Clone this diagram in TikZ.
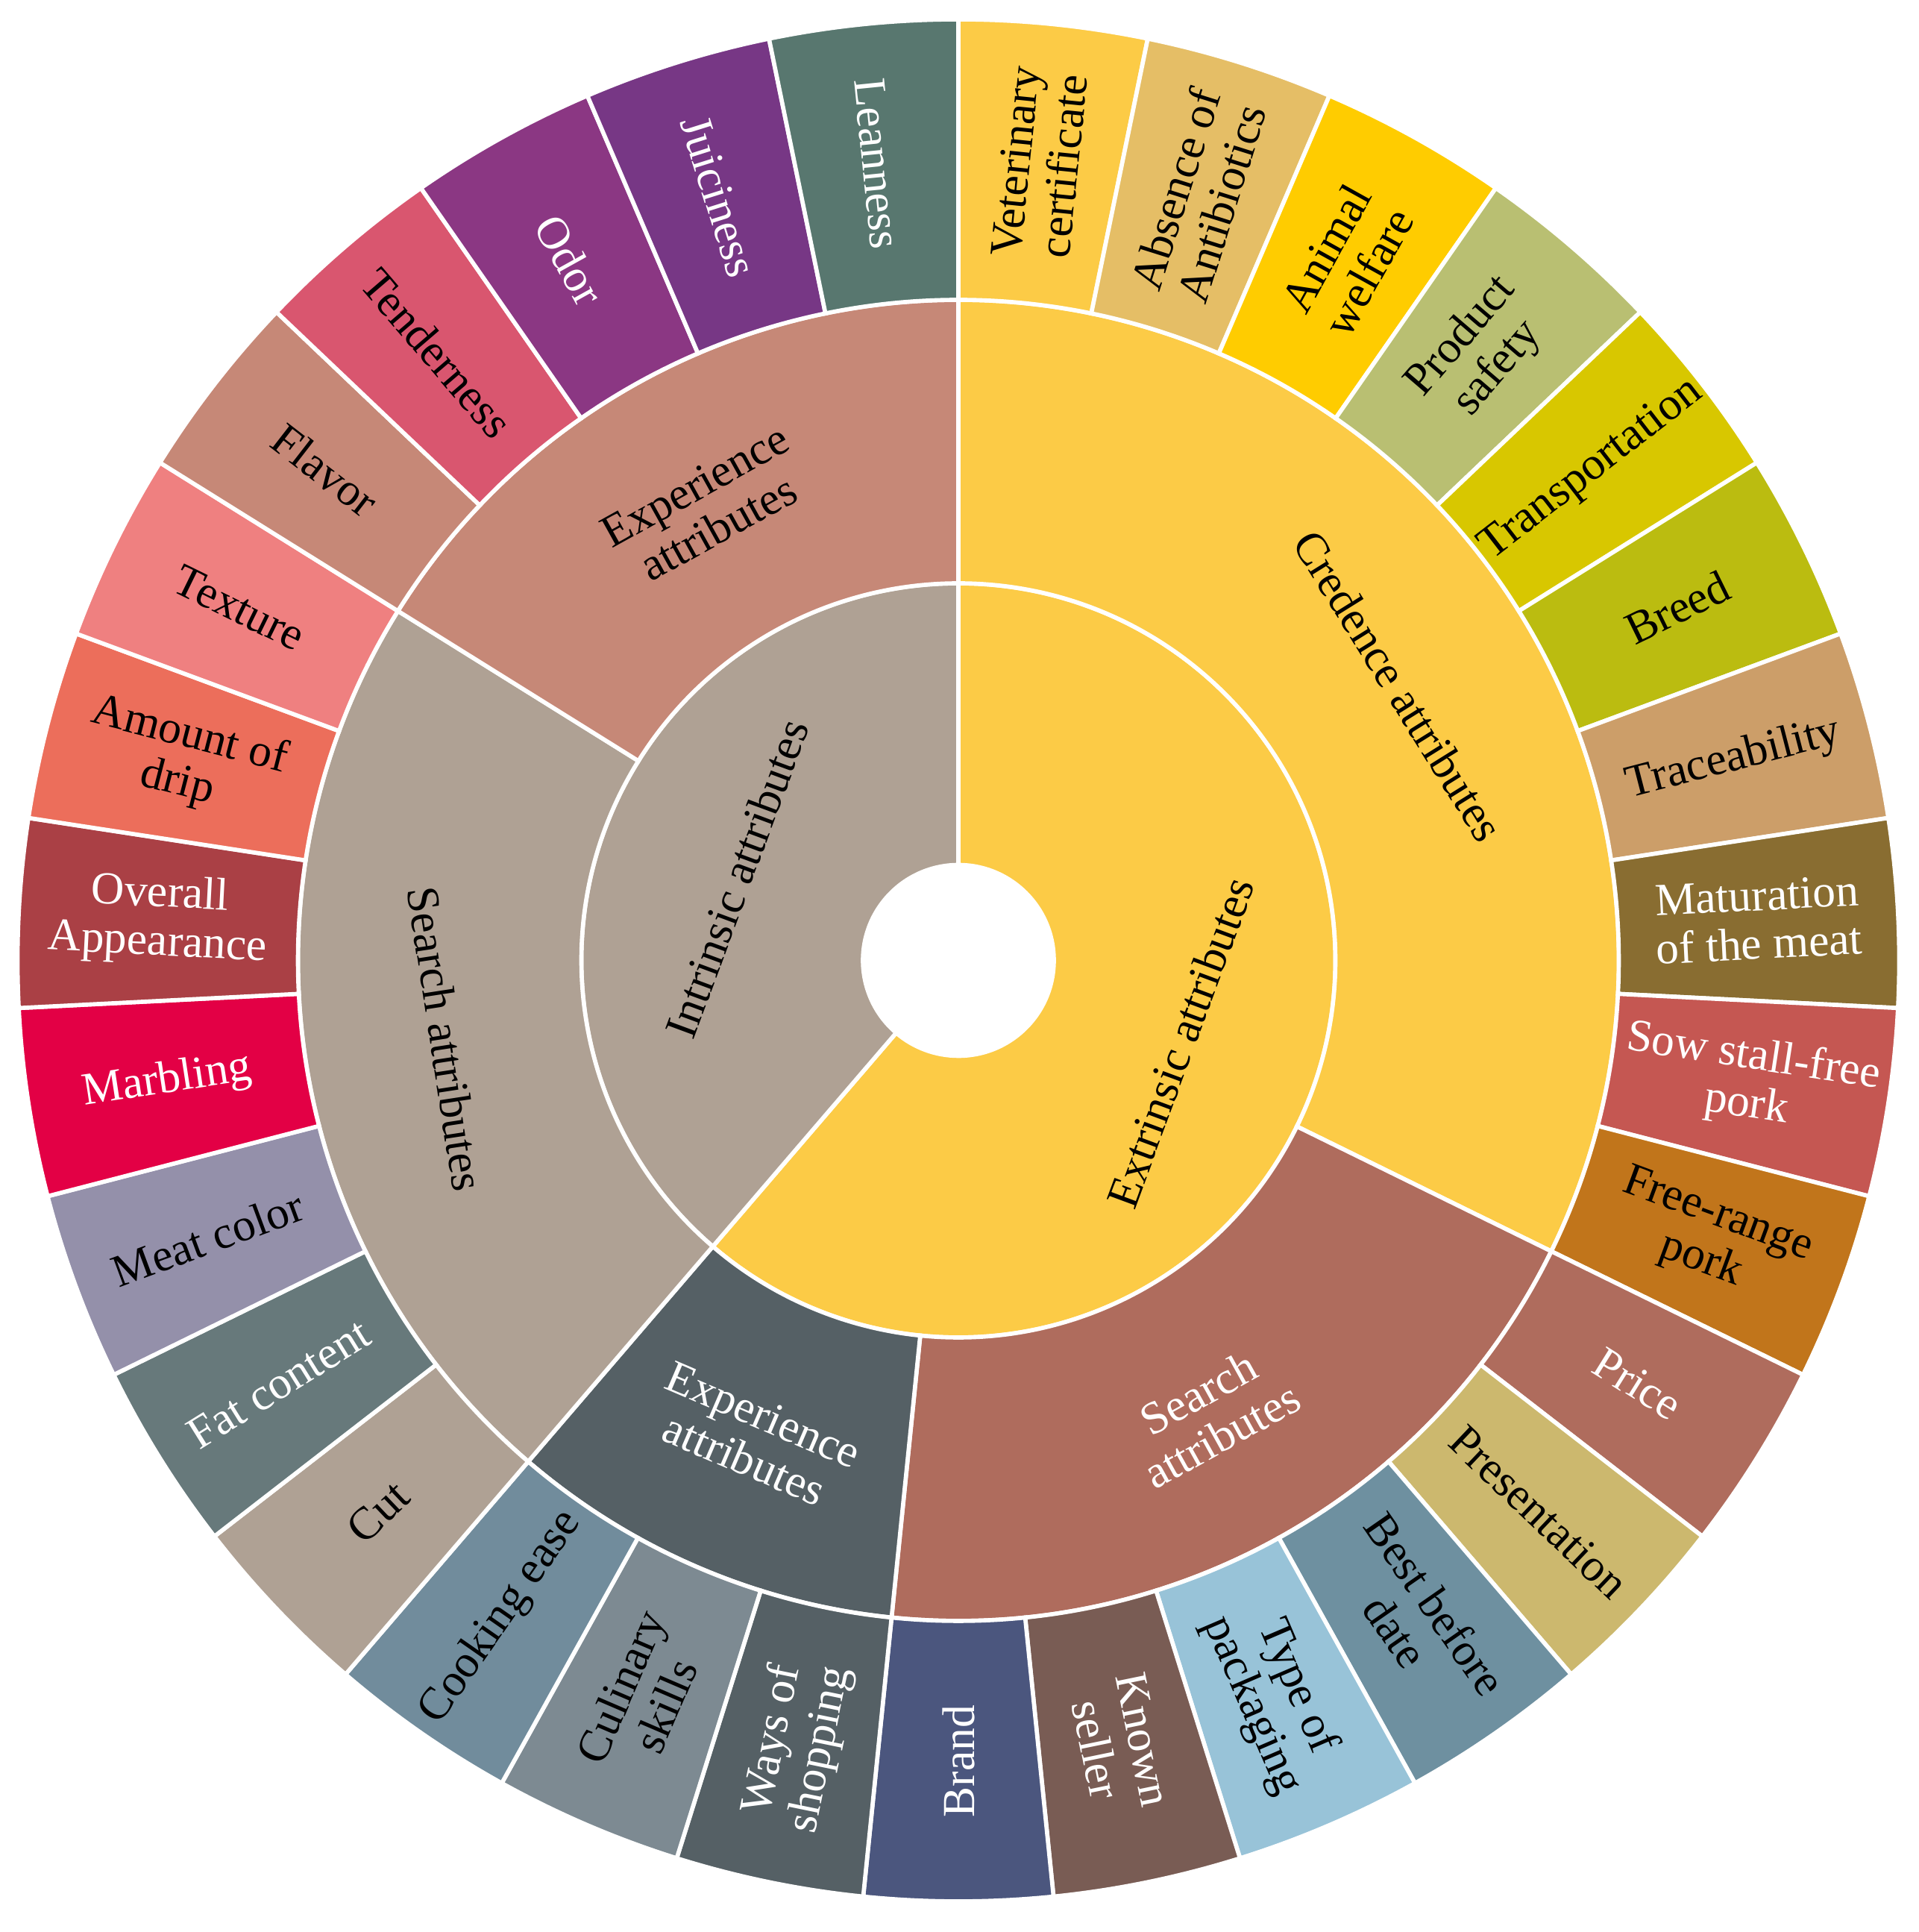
\documentclass[tikz,border=0pt]{standalone}
\usepackage{fontspec}
\setmainfont{Liberation Serif}

\definecolor{cred}{HTML}{FCCB46}
\definecolor{intr}{HTML}{AFA194}
\definecolor{expi}{HTML}{C68877}
\definecolor{expe}{HTML}{556065}
\definecolor{sere}{HTML}{AF6C5D}
\definecolor{antibc}{HTML}{E5BE66}
\definecolor{welfarec}{HTML}{FFCC00}
\definecolor{safetyc}{HTML}{B9BF72}
\definecolor{transportc}{HTML}{D8C700}
\definecolor{breedc}{HTML}{BBBC10}
\definecolor{tracec}{HTML}{CC9E69}
\definecolor{maturationc}{HTML}{896D31}
\definecolor{sowfreec}{HTML}{C55752}
\definecolor{freerangec}{HTML}{C1751B}
\definecolor{presentc}{HTML}{CCB86E}
\definecolor{bestbeforec}{HTML}{6E90A0}
\definecolor{packagingc}{HTML}{98C3D8}
\definecolor{sellerc}{HTML}{795C54}
\definecolor{brandc}{HTML}{4B567E}
\definecolor{culinaryc}{HTML}{7D8A92}
\definecolor{cookingc}{HTML}{718C9C}
\definecolor{fatc}{HTML}{67797B}
\definecolor{meatcolorc}{HTML}{9490AA}
\definecolor{marblingc}{HTML}{E30045}
\definecolor{appearancec}{HTML}{AA4045}
\definecolor{dripc}{HTML}{EC6E5B}
\definecolor{texturec}{HTML}{EF8080}
\definecolor{tendernessc}{HTML}{D9566F}
\definecolor{odorc}{HTML}{8B3783}
\definecolor{juicinessc}{HTML}{773785}
\definecolor{leannessc}{HTML}{58776F}

\tikzstyle{sector}=[draw=white,line width=1.6pt]
\tikzstyle{attrtext}=[align=center,inner sep=0pt,font=\fontsize{17.5}{18.5}\selectfont]

% ring between radii #1 and #2, from slice #3 to slice #4 (31 slices, clockwise from the top)
\newcommand{\ringslice}[5]{%
  \pgfmathsetmacro\angA{90-#3*360/31}
  \pgfmathsetmacro\angB{90-(#4+1)*360/31}
  \filldraw[sector,fill=#5] (\angA:#1) arc[start angle=\angA,end angle=\angB,radius=#1]
    -- (\angB:#2) arc[start angle=\angB,end angle=\angA,radius=#2] -- cycle;}

% one outer slice with its radial text
\newcommand{\outerslice}[5]{%
  \ringslice{8.855}{12.615}{#1}{#1}{#2}
  \pgfmathsetmacro\angM{90-(#1+0.5)*360/31}
  \pgfmathsetmacro\angR{\angM < -89.9 ? \angM+180 : \angM}
  \node[attrtext,text=#3,rotate=\angR] (#4) at (\angM:10.735) {#5};}

\begin{document}
\begin{tikzpicture}
  \useasboundingbox (-12.85,-13.025) rectangle (12.87,12.875);

  % inner ring
  \ringslice{1.28}{5.055}{0}{18}{cred}
  \ringslice{1.28}{5.055}{19}{30}{intr}
  \node[attrtext,rotate=69.68] (extr) at (-20.32:3.17) {Extrinsic attributes};
  \node[attrtext,rotate=69.68] (intrn) at (159.68:3.17) {Intrinsic attributes};

  % middle ring
  \ringslice{5.055}{8.855}{0}{9}{cred}
  \ringslice{5.055}{8.855}{10}{15}{sere}
  \ringslice{5.055}{8.855}{16}{18}{expe}
  \ringslice{5.055}{8.855}{19}{25}{intr}
  \ringslice{5.055}{8.855}{26}{30}{expi}
  \node[attrtext,rotate=-58.06] (credence) at (31.94:6.955) {Credence attributes};
  \node[attrtext,text=white,rotate=29.03] (searche) at (-60.97:6.955) {Search\\attributes};
  \node[attrtext,text=white,rotate=-23.23] (expere) at (-113.23:6.955) {Experience\\attributes};
  \node[attrtext,rotate=-81.29] (searchi) at (188.71:6.955) {Search attributes};
  \node[attrtext,rotate=29.03] (experi) at (119.03:6.955) {Experience\\attributes};

  % outer ring
  \outerslice{0}{cred}{black}{vet}{Veterinary\\certificate}
  \outerslice{1}{antibc}{black}{antib}{Absence of\\Antibiotics}
  \outerslice{2}{welfarec}{black}{welfare}{Animal\\welfare}
  \outerslice{3}{safetyc}{black}{safety}{Product\\safety}
  \outerslice{4}{transportc}{black}{transport}{Transportation}
  \outerslice{5}{breedc}{black}{breed}{Breed}
  \outerslice{6}{tracec}{black}{trace}{Traceability}
  \outerslice{7}{maturationc}{white}{maturation}{Maturation\\of the meat}
  \outerslice{8}{sowfreec}{white}{sowfree}{Sow stall-free\\pork}
  \outerslice{9}{freerangec}{black}{freerange}{Free-range\\pork}
  \outerslice{10}{sere}{white}{price}{Price}
  \outerslice{11}{presentc}{black}{present}{Presentation}
  \outerslice{12}{bestbeforec}{black}{bestbefore}{Best before\\date}
  \outerslice{13}{packagingc}{black}{packaging}{Type of\\packaging}
  \outerslice{14}{sellerc}{white}{seller}{Known\\seller}
  \outerslice{15}{brandc}{white}{brand}{Brand}
  \outerslice{16}{expe}{white}{shopping}{Ways of\\shopping}
  \outerslice{17}{culinaryc}{black}{culinary}{Culinary\\skills}
  \outerslice{18}{cookingc}{black}{cooking}{Cooking ease}
  \outerslice{19}{intr}{black}{cut}{Cut}
  \outerslice{20}{fatc}{white}{fat}{Fat content}
  \outerslice{21}{meatcolorc}{black}{meatcolor}{Meat color}
  \outerslice{22}{marblingc}{white}{marbling}{Marbling}
  \outerslice{23}{appearancec}{white}{appearance}{Overall\\Appearance}
  \outerslice{24}{dripc}{black}{drip}{Amount of\\drip}
  \outerslice{25}{texturec}{black}{texture}{Texture}
  \outerslice{26}{expi}{black}{flavor}{Flavor}
  \outerslice{27}{tendernessc}{black}{tenderness}{Tenderness}
  \outerslice{28}{odorc}{white}{odor}{Odor}
  \outerslice{29}{juicinessc}{white}{juiciness}{Juiciness}
  \outerslice{30}{leannessc}{white}{leanness}{Leanness}
\end{tikzpicture}
\end{document}
